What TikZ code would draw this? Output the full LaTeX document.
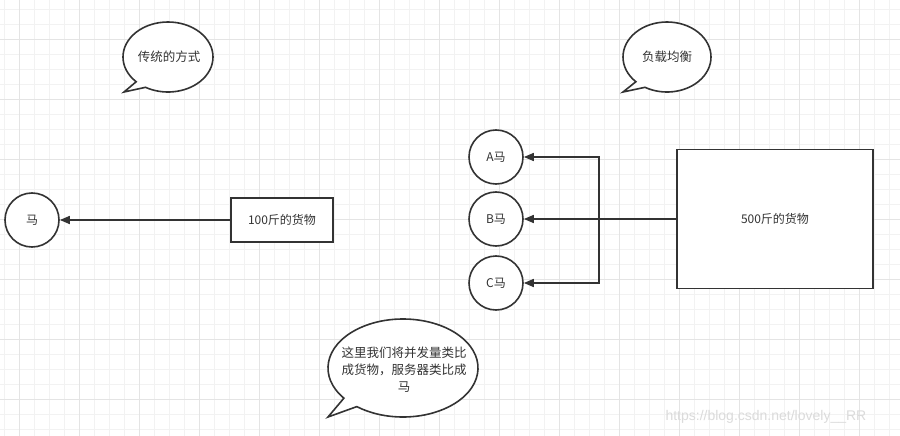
\documentclass[tikz,border=0pt]{standalone}
\usepackage{fontspec}
\setmainfont{Noto Sans CJK SC}
\newfontfamily\wmfont{Liberation Sans}
\usetikzlibrary{arrows.meta}
\definecolor{ink}{HTML}{333333}
\definecolor{gridminor}{HTML}{F2F2F2}
\definecolor{gridmajor}{HTML}{E4E4E4}
\tikzset{
  shapeline/.style={draw=ink, line width=1.6pt, fill=white},
  horse/.style={shapeline, circle, minimum size=54pt, inner sep=0pt, font=\fontsize{12}{14}\selectfont, text=ink},
  cargo/.style={shapeline, rectangle, inner sep=0pt, font=\fontsize{12}{14}\selectfont, text=ink},
  conn/.style={draw=ink, line width=1.6pt, -{Triangle[length=10pt,width=8pt]}},
  bubbletext/.style={font=\fontsize{12.5}{17}\selectfont, text=ink, align=center},
}
\begin{document}
\begin{tikzpicture}[x=1pt,y=-1pt]
\useasboundingbox (0,0) rectangle (900,436);
\fill[white] (0,0) rectangle (900,436);
% grid
\foreach \x in {4,19,...,900} \draw[gridminor, line width=0.8pt] (\x,0) -- (\x,436);
\foreach \y in {9,24,...,436} \draw[gridminor, line width=0.8pt] (0,\y) -- (900,\y);
\foreach \x in {19,79,...,900} \draw[gridmajor, line width=0.8pt] (\x,0) -- (\x,436);
\foreach \y in {39,99,...,436} \draw[gridmajor, line width=0.8pt] (0,\y) -- (900,\y);

% callout 1
\draw[shapeline] (168,57) ++(135:45 and 35) arc[start angle=135, end angle=480, x radius=45, y radius=35] -- (124,92) -- cycle;
\node[bubbletext] (t1) at (169,57) {传统的方式};
% callout 2
\draw[shapeline] (667,57) ++(135:44 and 35) arc[start angle=135, end angle=480, x radius=44, y radius=35] -- (623,92) -- cycle;
\node[bubbletext] (t2) at (667,57) {负载均衡};
% callout 3
\draw[shapeline] (403,368) ++(142:75 and 49) arc[start angle=142, end angle=488, x radius=75, y radius=49] -- (328,417) -- cycle;
\node[bubbletext] (t3) at (404,370) {这里我们将并发量类比\\成货物，服务器类比成\\马};

% left
\node[horse] (h) at (32,220) {马};
\node[cargo, minimum width=102pt, minimum height=44pt] (c1) at (282,220) {100斤的货物};
\draw[conn] (c1.west) -- (h.east);

% right
\node[horse] (ha) at (496,157) {A马};
\node[horse] (hb) at (496,219) {B马};
\node[horse] (hc) at (496,283) {C马};
\node[cargo, minimum width=196pt, minimum height=139pt] (c2) at (775,219) {500斤的货物};
\coordinate (j) at (599,219);
\draw[conn] (c2.west) -- (hb.east);
\draw[conn] (j) |- (ha.east);
\draw[conn] (j) |- (hc.east);

% watermark
\node[font=\wmfont\fontsize{14}{16}\selectfont, text=black!14, anchor=west] (wm) at (662,417) {https://blog.csdn.net/lovely\_\_RR};
\end{tikzpicture}
\end{document}
